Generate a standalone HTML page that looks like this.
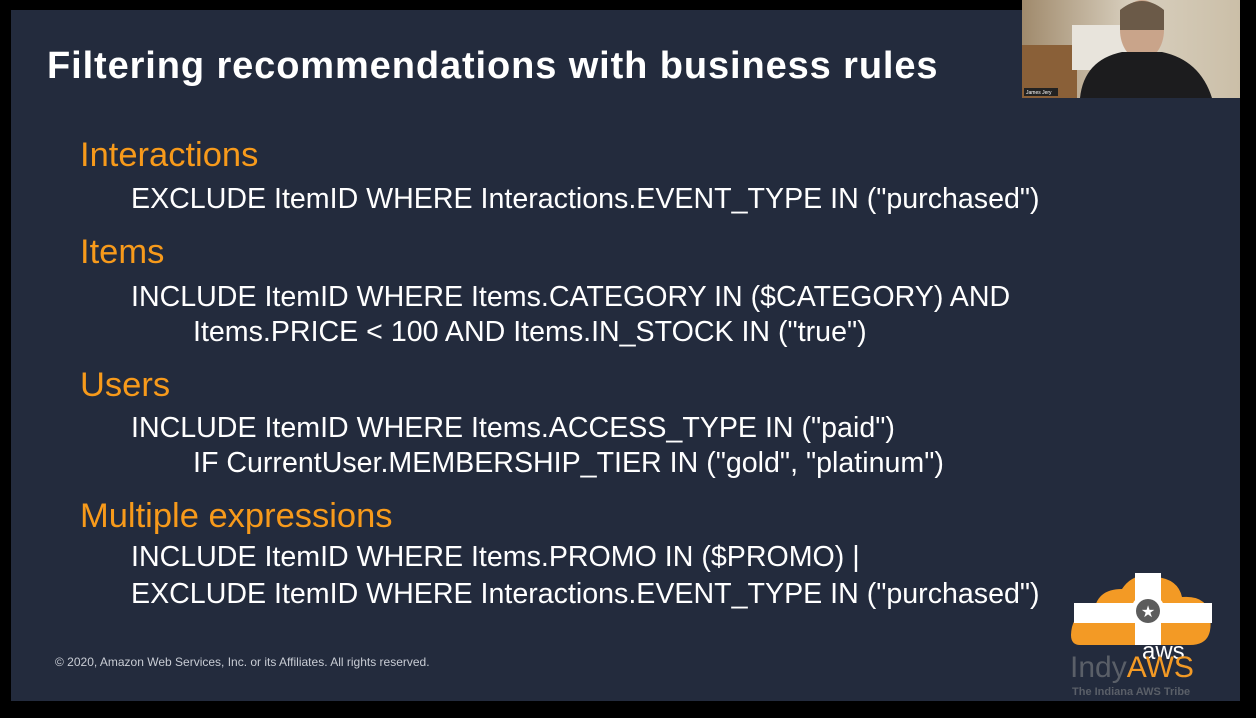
<!DOCTYPE html>
<html><head><meta charset="utf-8"><style>
body{margin:0;width:1256px;height:718px;background:#000;overflow:hidden;font-family:"Liberation Sans",sans-serif;position:relative}
#slide{position:absolute;left:11px;top:10px;width:1229px;height:691px;background:#232b3d}
.t{position:absolute;white-space:nowrap;line-height:1}
.h{color:#f79a1b;font-size:34.5px}
.b{color:#fff;font-size:28.6px}
</style></head><body>
<div id="slide"></div>
<div class="t" style="left:47px;top:47px;color:#fff;font-weight:bold;font-size:38px;letter-spacing:0.9px">Filtering recommendations with business rules</div>
<div class="t h" style="left:80px;top:138px">Interactions</div>
<div class="t b" style="left:131px;top:185px">EXCLUDE ItemID WHERE Interactions.EVENT_TYPE IN ("purchased")</div>
<div class="t h" style="left:80px;top:235px">Items</div>
<div class="t b" style="left:131px;top:283px">INCLUDE ItemID WHERE Items.CATEGORY IN ($CATEGORY) AND</div>
<div class="t b" style="left:193px;top:318px">Items.PRICE &lt; 100 AND Items.IN_STOCK IN ("true")</div>
<div class="t h" style="left:80px;top:368px">Users</div>
<div class="t b" style="left:131px;top:414px">INCLUDE ItemID WHERE Items.ACCESS_TYPE IN ("paid")</div>
<div class="t b" style="left:193px;top:449px">IF CurrentUser.MEMBERSHIP_TIER IN ("gold", "platinum")</div>
<div class="t h" style="left:80px;top:499px">Multiple expressions</div>
<div class="t b" style="left:131px;top:543px">INCLUDE ItemID WHERE Items.PROMO IN ($PROMO) |</div>
<div class="t b" style="left:131px;top:580px">EXCLUDE ItemID WHERE Interactions.EVENT_TYPE IN ("purchased")</div>
<div class="t" style="left:55px;top:656px;color:#c8ccd4;font-size:12px">© 2020, Amazon Web Services, Inc. or its Affiliates. All rights reserved.</div>

<svg style="position:absolute;left:1022px;top:0" width="218" height="98">
<defs><linearGradient id="wall" x1="0" x2="1"><stop offset="0" stop-color="#a08a6c"/><stop offset="0.5" stop-color="#d8cfbe"/><stop offset="1" stop-color="#cbbfa8"/></linearGradient></defs>
<rect width="218" height="98" fill="url(#wall)"/>
<rect x="0" y="45" width="55" height="53" fill="#8a6038"/>
<rect x="50" y="25" width="60" height="45" fill="#e8e4dc"/>
<ellipse cx="120" cy="30" rx="22" ry="30" fill="#c9a48a"/>
<path d="M98 10 Q120 -8 142 10 L142 30 L98 30Z" fill="#6b5a48"/>
<path d="M58 98 Q62 60 100 52 L140 52 Q178 60 190 98Z" fill="#1c1c1e"/>
<rect x="2" y="88" width="34" height="8" fill="#222"/>
<text x="4" y="94" fill="#fff" font-size="5" font-family="Liberation Sans">James Jery</text>
</svg>

<svg style="position:absolute;left:1060px;top:565px" width="170" height="135">
<path d="M20 80 Q8 80 12 62 Q16 46 34 48 Q36 24 62 24 Q74 6 96 12 Q118 14 122 32 Q148 30 150 52 Q154 80 130 80Z" fill="#f39a25"/>
<rect x="14" y="38" width="138" height="20" fill="#fff"/>
<rect x="75" y="8" width="26" height="72" fill="#fff"/>
<circle cx="88" cy="46" r="17" fill="#fff"/>
<circle cx="88" cy="46" r="12" fill="#5c5c5c"/>
<text x="88" y="52" fill="#fff" font-size="16" text-anchor="middle" font-family="DejaVu Sans">★</text>
<text x="82" y="94" fill="#fff" font-size="24" font-family="Liberation Sans">aws</text>
<text x="10" y="112" fill="#5a5f68" font-size="30" font-family="Liberation Sans">Indy<tspan fill="#f39a25">AWS</tspan></text>
<text x="12" y="130" fill="#5a5f68" font-size="11" font-family="Liberation Sans" font-weight="bold">The Indiana AWS Tribe</text>
</svg>
</body></html>
